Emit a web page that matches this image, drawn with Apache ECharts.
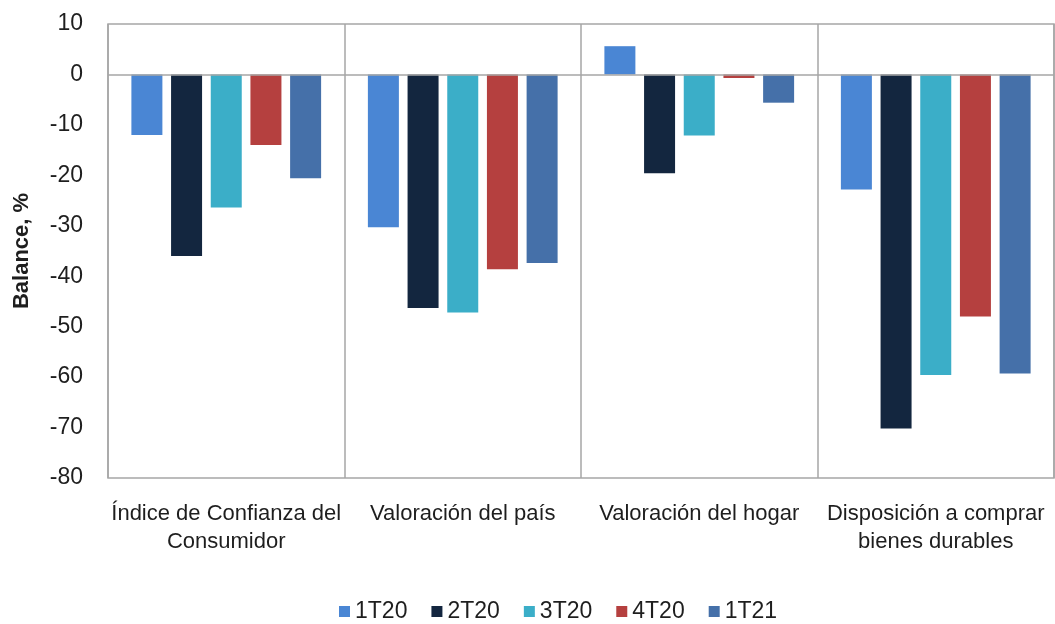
<!DOCTYPE html>
<html>
<head>
<meta charset="utf-8">
<script src="https://cdn.jsdelivr.net/npm/echarts@6/dist/echarts.min.js"></script>
<style>
  html, body { margin: 0; padding: 0; background: #fff; }
  #main { width: 1055px; height: 624px; }
</style>
</head>
<body>
<div id="main"></div>
<script>
// categorias y series (balance, %)
var categorias = ['Índice de Confianza del\nConsumidor', 'Valoración del país', 'Valoración del hogar', 'Disposición a comprar\nbienes durables'];
var trimestres = ['1T20', '2T20', '3T20', '4T20', '1T21'];
var v1T20 = [-12, -30.3, 5.6, -22.8];
var v2T20 = [-36, -46.3, -19.6, -70.2];
var v3T20 = [-26.4, -47.2, -12.1, -59.6];
var v4T20 = [-14, -38.6, -0.7, -48];
var v1T21 = [-20.6, -37.4, -5.6, -59.3];
var colores = ['#4a86d4', '#13263f', '#3baec8', '#b5403f', '#4570a9'];
var yTicks = { min: -80, max: 10, interval: 10 };

var valores = [v1T20, v2T20, v3T20, v4T20, v1T21];
var gris = '#a6a6a6';
var fuente = 'Liberation Sans, Arial, sans-serif';

var myChart = echarts.init(document.getElementById('main'));

var series = [];
for (var i = 0; i < trimestres.length; i++) {
    var s = {
        name: trimestres[i],
        type: 'bar',
        data: valores[i],
        barWidth: 31,
        barGap: '28%',
        itemStyle: { color: colores[i] }
    };
    if (i == 0) {
        // linea del cero
        s.markLine = {
            silent: true,
            symbol: 'none',
            label: { show: false },
            lineStyle: { color: gris, width: 1.5, type: 'solid' },
            data: [{ yAxis: 0 }]
        };
    }
    series.push(s);
}

option = {
    animation: false,
    textStyle: { fontFamily: fuente },
    grid: {
        show: true,
        left: 108,
        right: 1,
        top: 24,
        bottom: 146,
        borderColor: gris,
        borderWidth: 1.5
    },
    legend: {
        data: trimestres,
        left: 334,
        top: 595,
        icon: 'rect',
        itemWidth: 11,
        itemHeight: 11,
        itemGap: 24,
        textStyle: { fontSize: 23, color: '#1e1e1e', fontFamily: fuente }
    },
    xAxis: {
        type: 'category',
        data: categorias,
        axisLine: { show: false },
        axisTick: { show: false },
        splitLine: { show: true, lineStyle: { color: gris, width: 1.5 } },
        axisLabel: {
            fontSize: 22,
            lineHeight: 28,
            color: '#1e1e1e',
            margin: 22,
            interval: 0
        }
    },
    yAxis: {
        type: 'value',
        min: yTicks.min,
        max: yTicks.max,
        interval: yTicks.interval,
        name: 'Balance, %',
        nameLocation: 'middle',
        nameGap: 75,
        nameTextStyle: { fontSize: 22, fontWeight: 'bold', color: '#1e1e1e' },
        axisLine: { show: false },
        axisTick: { show: false },
        splitLine: { show: false },
        axisLabel: { fontSize: 23, color: '#1e1e1e', margin: 25 }
    },
    series: series
};

myChart.setOption(option);
</script>
</body>
</html>
